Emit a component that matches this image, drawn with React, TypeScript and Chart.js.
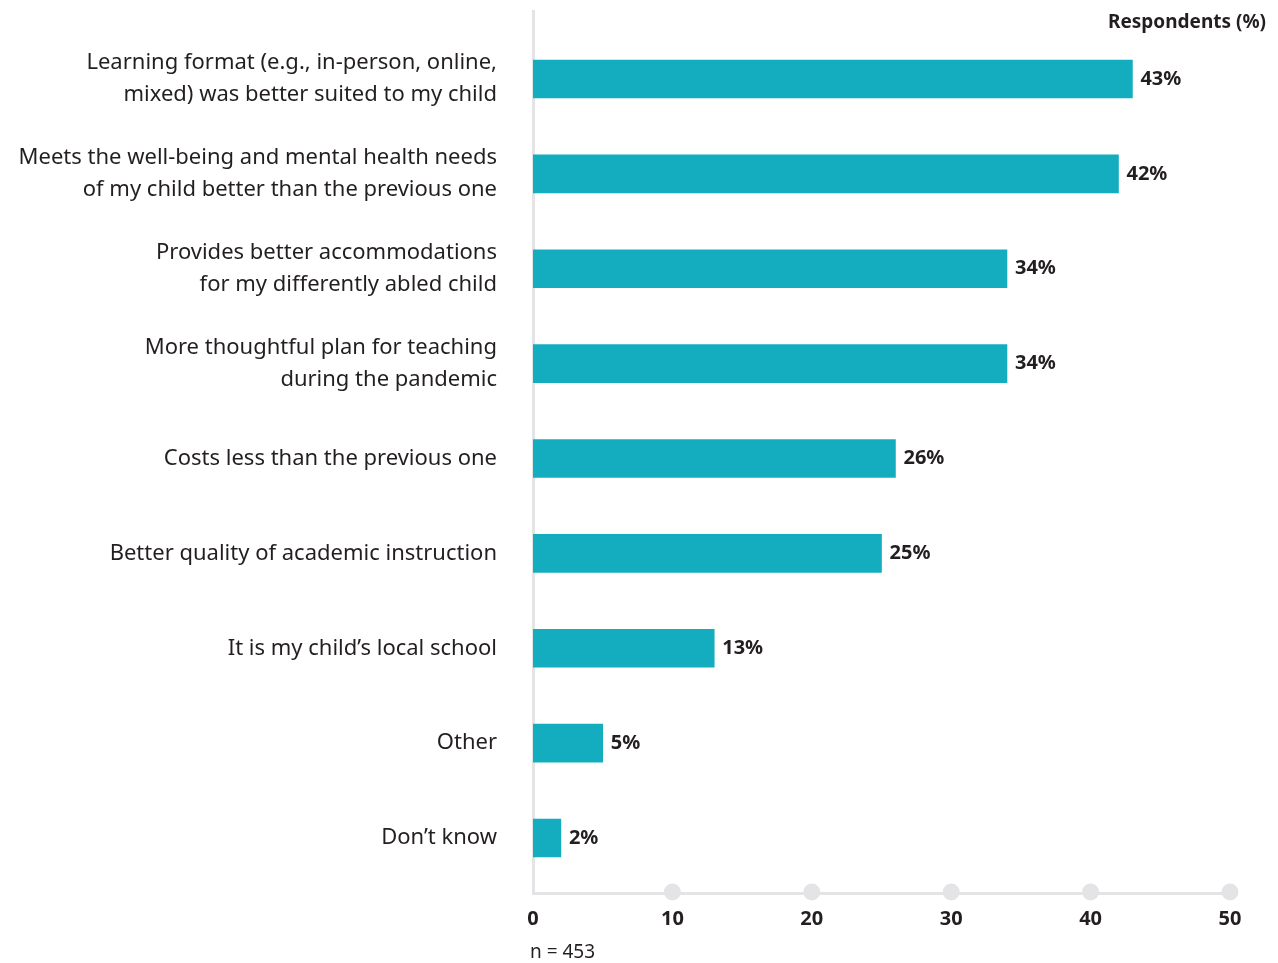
import React, { useEffect, useRef } from "react";
import { Chart, registerables } from "chart.js";

Chart.register(...registerables);

const categories: string[][] = [
  ["Learning format (e.g., in-person, online,", "mixed) was better suited to my child"],
  ["Meets the well-being and mental health needs", "of my child better than the previous one"],
  ["Provides better accommodations", "for my differently abled child"],
  ["More thoughtful plan for teaching", "during the pandemic"],
  ["Costs less than the previous one"],
  ["Better quality of academic instruction"],
  ["It is my child\u2019s local school"],
  ["Other"],
  ["Don\u2019t know"],
];
const values: number[] = [43, 42, 34, 34, 26, 25, 13, 5, 2];
const valueLabels: string[] = ["43%", "42%", "34%", "34%", "26%", "25%", "13%", "5%", "2%"];
const xTicks: number[] = [0, 10, 20, 30, 40, 50];
const axisTitle = "Respondents (%)";
const footnote = "n = 453";

const FONT = "'Noto Sans', sans-serif";
const TEXT = "#231f20";
const BAR = "#14adbf";
const AXIS = "#e4e4e6";

export default function App() {
  const ref = useRef<HTMLCanvasElement | null>(null);
  useEffect(() => {
    if (!ref.current) return;
    const extras = {
      id: "extras",
      afterDatasetsDraw(chart: any) {
        const ctx = chart.ctx;
        const xs = chart.scales.x;
        const ys = chart.scales.y;
        ctx.save();
        ctx.fillStyle = AXIS;
        xs.ticks.forEach((t: any) => {
          if (t.value <= 0) return;
          const px = xs.getPixelForValue(t.value);
          ctx.beginPath();
          ctx.arc(px, chart.chartArea.bottom - 1, 8.5, 0, Math.PI * 2);
          ctx.fill();
        });
        ctx.fillStyle = TEXT;
        ctx.font = `bold 20px ${FONT}`;
        ctx.textAlign = "left";
        ctx.textBaseline = "middle";
        values.forEach((v, i) => {
          ctx.fillText(valueLabels[i], xs.getPixelForValue(v) + 8, ys.getPixelForValue(i));
        });
        ctx.font = `bold 19px ${FONT}`;
        ctx.textAlign = "right";
        ctx.fillText(axisTitle, 1266, 23);
        ctx.font = `19px ${FONT}`;
        ctx.textAlign = "left";
        ctx.fillText(footnote, 530, 953);
        ctx.restore();
      },
    };
    const zeroPad = (s: any) => {
      s.paddingTop = 0;
      s.paddingBottom = 0;
      s.paddingLeft = 0;
      s.paddingRight = 0;
    };
    const chart = new Chart(ref.current, {
      type: "bar",
      data: {
        datasets: [
          {
            data: values.map((v, i) => ({ x: v, y: i })),
            backgroundColor: BAR,
            barThickness: 38,
          },
        ],
      },
      plugins: [extras],
      options: {
        indexAxis: "y",
        responsive: false,
        animation: false,
        layout: { autoPadding: false, padding: { top: 11, right: 48, left: 0, bottom: 0 } },
        plugins: { legend: { display: false }, tooltip: { enabled: false } },
        scales: {
          x: {
            type: "linear",
            min: 0,
            max: 50,
            grid: { display: false, drawTicks: false },
            border: { display: true, color: AXIS, width: 3 },
            afterBuildTicks: (s: any) => {
              s.ticks = xTicks.map((v) => ({ value: v }));
            },
            afterFit: (s: any) => {
              s.height = 70;
              zeroPad(s);
            },
            ticks: {
              padding: 14,
              color: TEXT,
              font: { family: FONT, size: 20, weight: "bold" },
            },
          },
          y: {
            type: "linear",
            reverse: true,
            offset: false,
            min: -0.717,
            max: 8.58,
            grid: { display: false, drawTicks: false },
            border: { display: true, color: AXIS, width: 3 },
            afterBuildTicks: (s: any) => {
              s.ticks = categories.map((_, i) => ({ value: i }));
            },
            afterFit: (s: any) => {
              s.width = 533;
              zeroPad(s);
            },
            ticks: {
              padding: 36,
              color: TEXT,
              autoSkip: false,
              font: { family: FONT, size: 22, lineHeight: 1.45 },
              callback: (v: any) => categories[v as number],
            },
          },
        },
      },
    } as any);
    return () => chart.destroy();
  }, []);
  return (
    <div style={{ position: "absolute", left: 0, top: 0, width: 1278, height: 963 }}>
      <canvas ref={ref} width={1278} height={963} />
    </div>
  );
}
